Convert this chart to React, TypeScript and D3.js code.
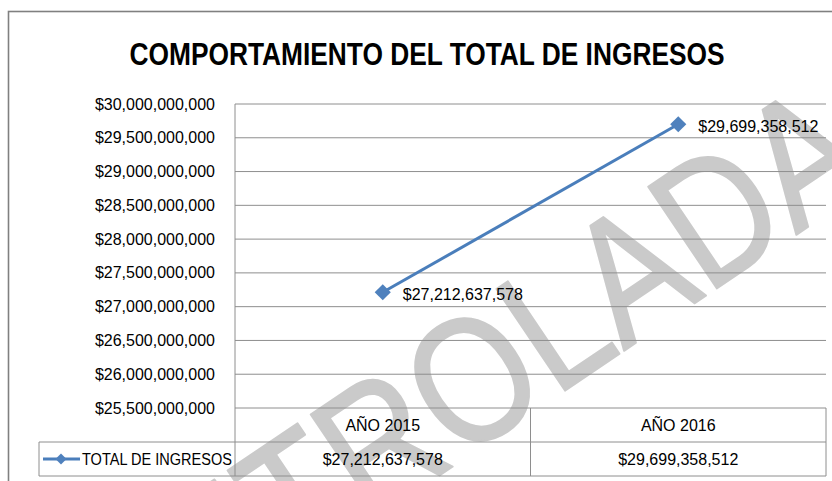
import React from "react";
import * as d3 from "d3";

const categories = ["AÑO 2015", "AÑO 2016"];
const seriesName = "TOTAL DE INGRESOS";
const values = [27212637578, 29699358512];
const yTicks = [25.5e9, 26e9, 26.5e9, 27e9, 27.5e9, 28e9, 28.5e9, 29e9, 29.5e9, 30e9];
const title = "COMPORTAMIENTO DEL TOTAL DE INGRESOS";
const watermark = "CONTROLADA";

const W = 832;
const H = 481;
const FONT = "'Liberation Sans', Arial, sans-serif";
const BLUE = "#4A7EBB";

export default function App() {
  const plotLeft = 235;
  const plotRight = 826;
  const plotTop = 104;
  const plotBottom = 408;
  const rowH = 34;
  const legendLeft = 39;

  const x = d3.scaleBand<string>().domain(categories).range([plotLeft, plotRight]).padding(0);
  const y = d3.scaleLinear().domain([25.5e9, 30e9]).range([plotBottom, plotTop]);
  const money = (v: number) => "$" + d3.format(",")(v);

  const pts = categories.map((c, i) => [x(c)! + x.bandwidth() / 2, y(values[i])] as [number, number]);
  const line = d3.line()(pts) || "";
  const diamond = d3.symbol().type(d3.symbolSquare).size(130)() || "";
  const smallDiamond = d3.symbol().type(d3.symbolSquare).size(60)() || "";

  const gridColor = "#8E8E8E";
  const fs = 16;
  const wmSize = 178;
  const wmScale = 0.84;

  return (
    <svg width={W} height={H} style={{ display: "block", position: "absolute", left: 0, top: 0 }}>
      <rect x={0} y={0} width={W} height={H} fill="#fff" />
      {/* outer chart border */}
      <rect x={8.5} y={11.5} width={W + 20} height={H + 20} fill="none" stroke="#808080" strokeWidth={1.6} />

      {/* watermark */}
      <g transform="translate(378,440) rotate(-34)">
        <text
          x={-(0.361 + 2.833) * wmSize * wmScale}
          y={0.358 * wmSize}
          fontFamily={FONT}
          fontSize={wmSize}
          textLength={6.945 * wmSize * wmScale}
          lengthAdjust="spacingAndGlyphs"
          fill="#CACACA"
          stroke="#CACACA"
          strokeWidth={2}
          strokeLinejoin="round"
        >
          {watermark}
        </text>
      </g>

      {/* title */}
      <text
        x={427}
        y={65}
        textAnchor="middle"
        fontFamily={FONT}
        fontWeight="bold"
        fontSize={32}
        textLength={595}
        lengthAdjust="spacingAndGlyphs"
        fill="#000"
      >
        {title}
      </text>

      {/* gridlines and y tick labels */}
      {yTicks.map((t) => (
        <g key={t}>
          <line x1={plotLeft} x2={plotRight} y1={y(t)} y2={y(t)} stroke={gridColor} strokeWidth={1} />
          <text x={215} y={y(t)} dy="0.35em" textAnchor="end" fontFamily={FONT} fontSize={fs} fill="#000">
            {money(t)}
          </text>
        </g>
      ))}

      {/* data table lines */}
      <line x1={plotLeft} x2={plotLeft} y1={plotTop} y2={plotBottom + 2 * rowH} stroke={gridColor} />
      <line x1={legendLeft} x2={plotRight} y1={plotBottom + rowH} y2={plotBottom + rowH} stroke={gridColor} />
      <line x1={legendLeft} x2={plotRight} y1={plotBottom + 2 * rowH} y2={plotBottom + 2 * rowH} stroke={gridColor} />
      <line x1={legendLeft} x2={legendLeft} y1={plotBottom + rowH} y2={plotBottom + 2 * rowH} stroke={gridColor} />
      {categories.map((c) => (
        <line
          key={"v" + c}
          x1={x(c)! + x.bandwidth()}
          x2={x(c)! + x.bandwidth()}
          y1={plotBottom}
          y2={plotBottom + 2 * rowH}
          stroke={gridColor}
        />
      ))}

      {/* category labels and table values */}
      {categories.map((c, i) => (
        <g key={c}>
          <text
            x={x(c)! + x.bandwidth() / 2}
            y={plotBottom + rowH / 2}
            dy="0.35em"
            textAnchor="middle"
            fontFamily={FONT}
            fontSize={fs}
            fill="#000"
          >
            {c}
          </text>
          <text
            x={x(c)! + x.bandwidth() / 2}
            y={plotBottom + rowH * 1.5}
            dy="0.35em"
            textAnchor="middle"
            fontFamily={FONT}
            fontSize={fs}
            fill="#000"
          >
            {money(values[i])}
          </text>
        </g>
      ))}

      {/* legend key in table */}
      <line x1={43} x2={80} y1={plotBottom + rowH * 1.5} y2={plotBottom + rowH * 1.5} stroke={BLUE} strokeWidth={3} />
      <path d={smallDiamond} transform={`translate(61,${plotBottom + rowH * 1.5}) rotate(45)`} fill="#4F81BD" />
      <text
        x={82}
        y={plotBottom + rowH * 1.5}
        dy="0.35em"
        fontFamily={FONT}
        fontSize={fs}
        textLength={150}
        lengthAdjust="spacingAndGlyphs"
        fill="#000"
      >
        {seriesName}
      </text>

      {/* series line */}
      <path d={line} fill="none" stroke={BLUE} strokeWidth={3} />
      {pts.map((p, i) => (
        <g key={i}>
          <path d={diamond} transform={`translate(${p[0]},${p[1]}) rotate(45)`} fill="#4F81BD" />
          <text x={p[0] + 20} y={p[1] + 2} dy="0.35em" fontFamily={FONT} fontSize={fs} fill="#000">
            {money(values[i])}
          </text>
        </g>
      ))}
    </svg>
  );
}
